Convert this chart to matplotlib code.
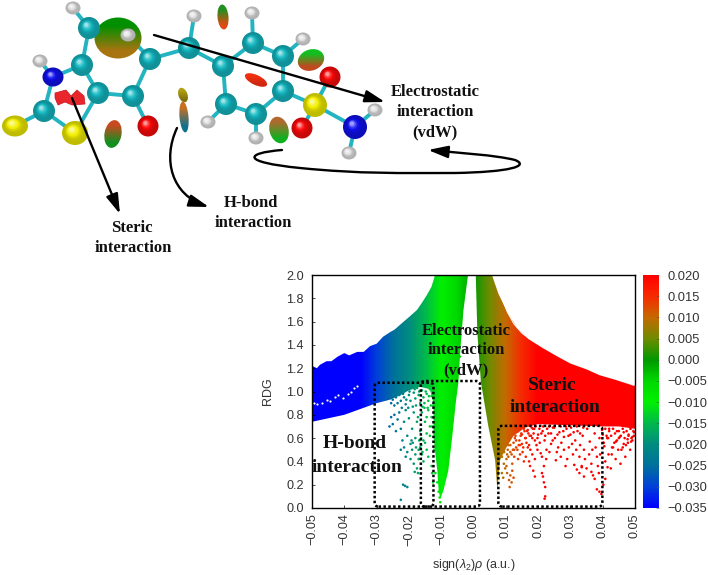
import numpy as np
import matplotlib
matplotlib.use('Agg')
import matplotlib.pyplot as plt
from matplotlib.colors import LinearSegmentedColormap, Normalize, to_rgb
from matplotlib.patches import Polygon, FancyBboxPatch, FancyArrowPatch, Ellipse
from matplotlib.path import Path
from matplotlib.cm import ScalarMappable

plt.rcParams['font.family'] = ['Liberation Sans', 'DejaVu Sans']
plt.rcParams['mathtext.fontset'] = 'custom'
plt.rcParams['mathtext.rm'] = 'Liberation Sans'
plt.rcParams['mathtext.it'] = 'Liberation Sans:italic'

W, H = 708, 575

# colour scale stops (value, colour)
scale_vals = [-0.035, -0.030, -0.025, -0.020, -0.015, -0.010, -0.005, 0.000, 0.005, 0.010, 0.015, 0.020]
scale_cols = ['#0000ff', '#0040d8', '#00709c', '#008c80', '#00b84c', '#00f000', '#00d800', '#009800',
              '#6f8c00', '#c46a00', '#f62a00', '#ff0000']

x_ticks = [-0.05, -0.04, -0.03, -0.02, -0.01, 0.00, 0.01, 0.02, 0.03, 0.04, 0.05]
y_ticks = [0.0, 0.2, 0.4, 0.6, 0.8, 1.0, 1.2, 1.4, 1.6, 1.8, 2.0]
cbar_ticks = [-0.035, -0.030, -0.025, -0.020, -0.015, -0.010, -0.005, 0.000, 0.005, 0.010, 0.015, 0.020]

# outline of the solid left band + green wedge
left_x = [-0.05, -0.0485, -0.0475, -0.0455, -0.044, -0.042, -0.04, -0.0385, -0.036, -0.034, -0.032, -0.03, -0.028,
          -0.0258, -0.0245, -0.0216, -0.0195, -0.0175, -0.016, -0.0144, -0.013, -0.0119, -0.0017,
          -0.0031, -0.0041, -0.0047, -0.0055, -0.0066, -0.0078, -0.0093, -0.0103,
          -0.0108, -0.0112, -0.0124, -0.0124, -0.0135,
          -0.0165, -0.02, -0.0225, -0.0258, -0.03, -0.035, -0.04, -0.045, -0.05]
left_y = [1.22, 1.2, 1.23, 1.26, 1.26, 1.3, 1.33, 1.31, 1.34, 1.34, 1.39, 1.41, 1.47,
          1.51, 1.53, 1.6, 1.65, 1.7, 1.76, 1.83, 1.9, 2.0, 2.0,
          1.7, 1.35, 1.07, 0.9, 0.61, 0.32, 0.15, 0.08,
          0.15, 0.32, 0.61, 0.9, 1.02,
          1.04, 1.01, 0.97, 0.93, 0.9, 0.85, 0.8, 0.77, 0.74]

# outline of the solid right band with its dense olive foot
right_x = [0.0007, 0.0057, 0.0077, 0.0105, 0.0134, 0.017, 0.0216, 0.026, 0.03, 0.035, 0.039, 0.044, 0.0495, 0.05,
           0.05, 0.045, 0.04, 0.03, 0.02, 0.016, 0.0124, 0.0102, 0.0082, 0.0078, 0.0074,
           0.0067, 0.0046, 0.0023, 0.0012]
right_y = [2.0, 2.0, 1.84, 1.68, 1.55, 1.45, 1.37, 1.3, 1.24, 1.19, 1.14, 1.1, 1.05, 1.05,
           0.68, 0.7, 0.7, 0.71, 0.72, 0.69, 0.62, 0.52, 0.41, 0.28, 0.15,
           0.41, 0.7, 1.08, 1.5]

# thin white gap near the upper right edge of the band
gap_x = [0.0068, 0.0085, 0.0105, 0.0125, 0.015, 0.017]
gap_y = [1.96, 1.82, 1.68, 1.58, 1.5, 1.46]

# white specks in the blue band
speck_x = [-0.0495, -0.0485, -0.047, -0.0455, -0.0445, -0.043, -0.042, -0.0405, -0.039, -0.038, -0.037, -0.036]
speck_y = [0.9, 0.89, 0.9, 0.93, 0.92, 0.95, 0.97, 0.94, 0.98, 1.0, 1.03, 1.05]

# loose points under the bands, estimated by eye
hbond_x = [-0.0255, -0.025, -0.0245, -0.024, -0.0235, -0.023, -0.0225, -0.022, -0.0215, -0.021, -0.0205, -0.02,
           -0.0195, -0.019, -0.0185, -0.018, -0.0175, -0.017, -0.0165, -0.016, -0.0155, -0.015, -0.0145, -0.014,
           -0.0135, -0.013, -0.026, -0.0255, -0.025, -0.0245, -0.024, -0.0235, -0.023, -0.0225, -0.022, -0.0215,
           -0.021, -0.0205, -0.02, -0.0195, -0.019, -0.0185, -0.018, -0.0175, -0.017, -0.0165, -0.016, -0.0155,
           -0.015, -0.0145, -0.014, -0.0135, -0.013, -0.0125, -0.0225, -0.0215, -0.021, -0.0205, -0.0195, -0.019,
           -0.0185, -0.018, -0.0175, -0.017, -0.0165, -0.016, -0.0155, -0.015, -0.0145, -0.014, -0.013, -0.0218,
           -0.0212, -0.0205, -0.0225, -0.0128, -0.0125, -0.0182, -0.0172, -0.0192, -0.0162, -0.0152,
           -0.0222, -0.0218, -0.0208, -0.0202, -0.0198, -0.0188, -0.0182, -0.0178, -0.0168, -0.0158, -0.0152, -0.0148,
           -0.0142, -0.0138, -0.0132, -0.0128, -0.0188, -0.0178, -0.0168, -0.0162, -0.0158, -0.0172, -0.0145, -0.0135]
hbond_y = [0.90, 0.93, 0.88, 0.95, 0.90, 0.97, 0.92, 1.0, 0.95, 0.89, 1.02, 0.97,
           0.92, 1.04, 0.99, 0.94, 1.03, 0.97, 0.9, 1.01, 0.95, 1.05, 0.98, 0.92,
           1.02, 0.96, 0.70, 0.78, 0.72, 0.8, 0.66, 0.76, 0.82, 0.68, 0.58, 0.74,
           0.84, 0.62, 0.77, 0.55, 0.68, 0.82, 0.6, 0.74, 0.5, 0.66, 0.82, 0.58,
           0.74, 0.64, 0.84, 0.7, 0.78, 0.88, 0.5, 0.52, 0.44, 0.48, 0.42, 0.5,
           0.38, 0.46, 0.34, 0.42, 0.52, 0.46, 0.4, 0.56, 0.5, 0.44, 0.36, 0.2,
           0.19, 0.18, 0.07, 0.3, 0.22, 0.31, 0.3, 0.58, 0.6, 0.86,
           0.86, 0.98, 0.93, 0.86, 1.0, 0.87, 1.02, 0.88, 1.0, 0.87, 0.9, 1.0,
           0.86, 0.96, 0.88, 1.0, 0.56, 0.52, 0.58, 0.54, 0.48, 0.78, 0.78, 0.62]

green_x = [-0.0105, -0.0103, -0.0108, -0.0112, -0.0118, -0.0098, -0.0088, -0.0078, -0.0068, -0.0122, -0.0128,
           -0.0058, -0.0052, -0.0046, -0.0042]
green_y = [0.09, 0.05, 0.14, 0.22, 0.3, 0.2, 0.38, 0.6, 0.85, 0.5, 0.7, 1.02, 1.1, 1.2, 1.3]

red_x = [0.0086, 0.0092, 0.0098, 0.0104, 0.011, 0.0116, 0.0122, 0.0128, 0.0134, 0.014, 0.0146, 0.0152, 0.0158, 0.0164,
         0.017, 0.0176, 0.0182, 0.0188, 0.0195, 0.02, 0.0208, 0.0214, 0.022, 0.0226, 0.0232, 0.024, 0.0246, 0.0252,
         0.0258, 0.0266, 0.0272, 0.028, 0.0288, 0.0295, 0.03, 0.0308, 0.0315, 0.0322, 0.033, 0.0338, 0.0345, 0.0352,
         0.036, 0.0368, 0.0375, 0.0382, 0.039, 0.0398, 0.0405, 0.0412, 0.042, 0.0428, 0.0436, 0.0444, 0.045, 0.0458,
         0.0465, 0.0472, 0.048, 0.0488, 0.0495,
         0.0088, 0.0094, 0.0102, 0.0108, 0.0114, 0.012, 0.0126, 0.0132, 0.0138, 0.0144, 0.015, 0.0156, 0.0162, 0.0168,
         0.0175, 0.0182, 0.019, 0.0198, 0.0205, 0.0212, 0.0218, 0.0225, 0.0235, 0.0245, 0.0255, 0.0262, 0.027, 0.028,
         0.029, 0.0305, 0.0318, 0.0328, 0.0335, 0.0342, 0.035, 0.0358, 0.0365, 0.0378, 0.0385, 0.0392, 0.0402, 0.0408,
         0.0418, 0.0425, 0.0432, 0.044, 0.0448, 0.0455, 0.0462, 0.047, 0.0478, 0.0485, 0.0492,
         0.0088, 0.0092, 0.0098, 0.0104, 0.011, 0.0114, 0.0118, 0.012, 0.0112, 0.0124, 0.0172, 0.0185, 0.019, 0.0212,
         0.0215, 0.0218, 0.0222, 0.0222, 0.022, 0.0285, 0.0312, 0.032, 0.0328, 0.0335, 0.0342, 0.0365, 0.037, 0.0375,
         0.0382, 0.039, 0.0396, 0.0388, 0.0402, 0.0408, 0.0415,
         0.0095, 0.01, 0.0106, 0.0112, 0.0118, 0.0124, 0.013, 0.0136, 0.0142, 0.0148, 0.0154, 0.016, 0.0166, 0.0172,
         0.0178, 0.0184, 0.019, 0.0102, 0.0108, 0.0114, 0.012, 0.0126, 0.0132, 0.0138, 0.0144, 0.015, 0.0156, 0.0162,
         0.0168, 0.0174, 0.018, 0.0186, 0.0192, 0.0198, 0.0204, 0.021, 0.0216, 0.0222, 0.0228, 0.0234, 0.024, 0.025,
         0.026, 0.027, 0.0278, 0.0286, 0.0294, 0.0302, 0.031, 0.032, 0.033, 0.034,
         0.04, 0.0408, 0.0414, 0.042, 0.0426, 0.0432, 0.0438, 0.0444, 0.045, 0.0456, 0.0462, 0.0468, 0.0474, 0.048,
         0.0486, 0.0492, 0.0497, 0.0403, 0.0417, 0.0429, 0.0441, 0.0453, 0.0465, 0.0477, 0.0489, 0.0497]
red_y = [0.6, 0.52, 0.64, 0.46, 0.58, 0.66, 0.5, 0.6, 0.68, 0.54, 0.62, 0.48, 0.66, 0.56,
         0.64, 0.5, 0.6, 0.68, 0.54, 0.63, 0.47, 0.66, 0.58, 0.5, 0.64, 0.55, 0.69, 0.6,
         0.48, 0.65, 0.56, 0.61, 0.68, 0.52, 0.63, 0.46, 0.58, 0.66, 0.54, 0.62, 0.42, 0.68, 0.57,
         0.5, 0.64, 0.44, 0.6, 0.67, 0.53, 0.62, 0.68, 0.46, 0.56, 0.66, 0.6, 0.5,
         0.65, 0.54, 0.62, 0.57, 0.66,
         0.44, 0.38, 0.42, 0.54, 0.48, 0.38, 0.44, 0.52, 0.42, 0.46, 0.55, 0.4, 0.44, 0.52,
         0.36, 0.46, 0.42, 0.5, 0.56, 0.44, 0.36, 0.42, 0.48, 0.58, 0.41, 0.52, 0.44, 0.5,
         0.42, 0.55, 0.5, 0.44, 0.36, 0.5, 0.34, 0.46, 0.38, 0.52, 0.36, 0.46, 0.56, 0.4,
         0.46, 0.34, 0.52, 0.42, 0.5, 0.38, 0.52, 0.44, 0.56, 0.5, 0.58,
         0.3, 0.26, 0.34, 0.3, 0.24, 0.28, 0.22, 0.32, 0.18, 0.26, 0.4, 0.32, 0.27, 0.3,
         0.27, 0.22, 0.18, 0.1, 0.08, 0.36, 0.37, 0.33, 0.3, 0.35, 0.27, 0.31, 0.28, 0.25,
         0.16, 0.14, 0.12, 0.3, 0.2, 0.25, 0.35,
         0.48, 0.56, 0.5, 0.6, 0.46, 0.56, 0.62, 0.5, 0.58, 0.64, 0.52, 0.6, 0.66, 0.54,
         0.62, 0.68, 0.58, 0.36, 0.44, 0.54, 0.64, 0.5, 0.58, 0.66, 0.54, 0.63, 0.68, 0.6,
         0.67, 0.62, 0.69, 0.64, 0.7, 0.6, 0.68, 0.64, 0.7, 0.62, 0.68, 0.7, 0.64, 0.69,
         0.63, 0.7, 0.66, 0.7, 0.62, 0.69, 0.65, 0.7, 0.64, 0.69,
         0.63, 0.68, 0.6, 0.66, 0.62, 0.68, 0.64, 0.58, 0.66, 0.62, 0.68, 0.6, 0.66, 0.63,
         0.68, 0.61, 0.65, 0.56, 0.6, 0.52, 0.57, 0.61, 0.55, 0.59, 0.6, 0.62]

# dotted boxes: left, right, bottom, top
box_lims = [(-0.0306, -0.0124, 0.012, 1.075), (-0.0163, 0.0020, 0.012, 1.09), (0.0077, 0.0399, 0.012, 0.705)]

# molecule sketch in image pixels
carbon_x = [89, 82, 98, 133, 150, 189, 223, 253, 283, 283, 256, 226, 44]
carbon_y = [28, 65, 93, 96, 59, 48, 66, 43, 56, 91, 114, 104, 111]
nitrogen_x = [53, 355]
nitrogen_y = [77, 127]
sulfur_x = [75, 15, 315]
sulfur_y = [133, 126, 105]
oxygen_x = [148, 330, 302]
oxygen_y = [126, 77, 128]
hydrogen_x = [73, 40, 128, 194, 252, 303, 208, 256, 375, 349]
hydrogen_y = [8, 61, 35, 16, 13, 39, 122, 138, 110, 153]
bond_list = [((89, 28), (73, 8)), ((89, 28), (82, 65)), ((82, 65), (98, 93)), ((98, 93), (133, 96)),
             ((133, 96), (150, 59)), ((150, 59), (128, 35)), ((150, 59), (189, 48)), ((189, 48), (194, 16)),
             ((189, 48), (223, 66)), ((223, 66), (253, 43)), ((253, 43), (252, 13)), ((253, 43), (283, 56)),
             ((283, 56), (303, 39)), ((283, 56), (283, 91)), ((283, 91), (256, 114)), ((256, 114), (226, 104)),
             ((226, 104), (223, 66)), ((226, 104), (208, 122)), ((256, 114), (256, 138)), ((283, 91), (315, 105)),
             ((133, 96), (148, 126)), ((82, 65), (53, 77)), ((53, 77), (40, 61)), ((53, 77), (44, 111)),
             ((44, 111), (15, 126)), ((44, 111), (75, 133)), ((75, 133), (98, 93)), ((315, 105), (330, 77)),
             ((315, 105), (302, 128)), ((315, 105), (355, 127)), ((355, 127), (375, 110)), ((355, 127), (349, 153))]
# blobs: x, y, width, height, angle, top colour, bottom colour
blob_list = [(118, 38, 47, 41, 0, '#009000', '#a87410'),
             (113, 134, 17, 28, 10, '#c84a20', '#109020'),
             (183, 95, 9, 15, -20, '#b0a010', '#807010'),
             (184, 117, 9, 31, -5, '#c87020', '#107090'),
             (223, 17, 11, 25, -5, '#209020', '#e04a10'),
             (256, 80, 24, 10, 25, '#f03010', '#d02810'),
             (311, 60, 27, 21, -20, '#10c020', '#c04a20'),
             (279, 130, 19, 27, -15, '#b06a30', '#10b020')]


def tick_text(v, n):
    return f'{v:.{n}f}'.replace('-', '\u2212')


def shade(col, f):
    c = np.array(to_rgb(col))
    return tuple(c + (1 - c) * f) if f > 0 else tuple(c * (1 + f))


def sphere(a, x, y, r, col, ry=None):
    ry = r if ry is None else ry
    # stack of shrinking circles gives the ball shading
    for k in range(9):
        t = k / 9
        f = -0.22 + 1.15 * t ** 3
        a.add_patch(Ellipse((x - 0.28 * r * t, y - 0.32 * ry * t), 2 * r * (1 - t * 0.92), 2 * ry * (1 - t * 0.92),
                            fc=shade(col, f), ec='none', zorder=3))


cmap = LinearSegmentedColormap.from_list('nci', [(round((v + 0.035) / 0.055, 6), c) for v, c in zip(scale_vals, scale_cols)])
norm = Normalize(-0.035, 0.02)

fig = plt.figure(figsize=(W / 100, H / 100), dpi=100)
ax = fig.add_axes([312 / W, 1 - 508 / H, 323 / W, 233 / H])
ax.set_xlim(-0.05, 0.05)
ax.set_ylim(0, 2)

grad = np.linspace(-0.05, 0.05, 400)[None, :]
for bx, by in [(left_x, left_y), (right_x, right_y)]:
    im = ax.imshow(grad, cmap=cmap, norm=norm, extent=(-0.05, 0.05, 0, 2), aspect='auto', zorder=1)
    poly = Polygon(np.column_stack([bx, by]), closed=True, transform=ax.transData, fc='none', ec='none')
    ax.add_patch(poly)
    im.set_clip_path(poly)

ax.plot(gap_x, gap_y, color='white', lw=0.7, zorder=2)
ax.scatter(speck_x, speck_y, s=2.5, color='white', lw=0, zorder=2)
for px, py in [(hbond_x, hbond_y), (green_x, green_y), (red_x, red_y)]:
    ax.scatter(px, py, c=px, cmap=cmap, norm=norm, s=3.5, lw=0, zorder=2)

aspect = (2 / 233) / (0.1 / 323)
for l, r, b, t in box_lims:
    ax.add_patch(FancyBboxPatch((l, b), r - l, t - b, boxstyle='round,pad=0,rounding_size=0.0012',
                                mutation_aspect=aspect, fc='none', ec='black', lw=1.8,
                                ls=(0, (1, 0.95)), zorder=4, clip_on=False))

ax.set_xticks(x_ticks)
ax.set_xticklabels([tick_text(v, 2) for v in x_ticks], rotation=90, fontsize=9.1, color='#333333')
ax.set_yticks(y_ticks)
ax.set_yticklabels([tick_text(v, 1) for v in y_ticks], fontsize=9.1, color='#333333')
ax.tick_params(direction='in', length=2.5, width=0.5)
ax.tick_params(axis='y', pad=6)
ax.tick_params(axis='x', pad=4)
ax.set_xlabel(r'sign($\lambda_2$)$\rho$ (a.u.)', fontsize=9, color='#333333', labelpad=8)
ax.set_ylabel('RDG', fontsize=9, color='#333333', labelpad=9)
for sp in ax.spines.values():
    sp.set_linewidth(1.0)

cax = fig.add_axes([643 / W, 1 - 508 / H, 16 / W, 233 / H])
cb = fig.colorbar(ScalarMappable(norm=norm, cmap=cmap), cax=cax, ticks=cbar_ticks)
cb.ax.set_yticklabels([tick_text(v, 3) for v in cbar_ticks], fontsize=9.3, color='#333333')
cb.ax.tick_params(direction='in', length=2, width=0.4, pad=6, color='#555555')
cb.outline.set_visible(False)

# overlay in image pixels for the molecule, labels and arrows
ov = fig.add_axes([0, 0, 1, 1], zorder=5)
ov.axis('off')

for (x0, y0), (x1, y1) in bond_list:
    ov.plot([x0, x1], [y0, y1], color='#22b4c0', lw=2.8, solid_capstyle='round', zorder=2)

for x, y, w_, h_, ang, c0, c1 in blob_list:
    c0, c1 = np.array(to_rgb(c0)), np.array(to_rgb(c1))
    f = np.linspace(-1.1, 2.1, 32).clip(0, 1)[:, None, None]
    img = c0 * (1 - f) + c1 * f
    im = ov.imshow(img, extent=(x - w_, x + w_, y + h_, y - h_), aspect='auto', zorder=2.5)
    el = Ellipse((x, y), w_, h_, angle=ang, transform=ov.transData, fc='none', ec='none')
    ov.add_patch(el)
    im.set_clip_path(el)

for x, y in zip(carbon_x, carbon_y):
    sphere(ov, x, y, 11, '#14b8c2')
sphere(ov, nitrogen_x[0], nitrogen_y[0], 10.5, '#1010f0', 9.5)
sphere(ov, nitrogen_x[1], nitrogen_y[1], 12, '#1010f0')
sphere(ov, sulfur_x[0], sulfur_y[0], 13, '#f4f000', 12)
sphere(ov, sulfur_x[1], sulfur_y[1], 13, '#f4f000', 10.5)
sphere(ov, sulfur_x[2], sulfur_y[2], 12, '#f4f000')
for x, y in zip(oxygen_x, oxygen_y):
    sphere(ov, x, y, 10.5, '#ff0a0a')
for x, y in zip(hydrogen_x, hydrogen_y):
    sphere(ov, x, y, 7.5, '#e4e4e4', 6.5)

# steric lobes
ov.add_patch(Polygon([(55, 93), (66, 90), (71, 96), (77, 90), (84, 96), (85, 104), (72, 105), (65, 102), (58, 105),
                      (55, 98)], closed=True, fc='#e8262c', ec='#c01820', lw=0.5, zorder=4))

head = '-|>,head_length=0.85,head_width=0.26'
for (x0, y0), (x1, y1) in [((154, 35), (385, 102)), ((72, 98), (120, 214))]:
    ov.add_patch(FancyArrowPatch((x0, y0), (x1, y1), arrowstyle=head, mutation_scale=14, color='black',
                                 lw=1.7, shrinkA=0, shrinkB=0, zorder=6))

hb_path = Path([(177, 128), (162, 160), (172, 195), (209, 207)], [Path.MOVETO, Path.CURVE4, Path.CURVE4, Path.CURVE4])
ov.add_patch(FancyArrowPatch(path=hb_path, arrowstyle=head, mutation_scale=14, color='black', lw=1.7, zorder=6))

loop_path = Path([(282, 150), (245, 153), (240, 162), (300, 168), (360, 174), (400, 173), (455, 173),
                  (510, 172), (530, 166), (515, 160), (495, 155), (460, 153), (428, 150)],
                 [Path.MOVETO] + [Path.CURVE4] * 12)
ov.add_patch(FancyArrowPatch(path=loop_path, arrowstyle=head, mutation_scale=14, color='black', lw=1.7, zorder=6))

serif = dict(family='Liberation Serif', fontweight='bold', ha='center', va='center', color='#111111')
ov.text(132, 228, 'Steric', fontsize=12, **serif)
ov.text(133, 248, 'interaction', fontsize=12, **serif)
ov.text(251, 203, 'H-bond', fontsize=12, **serif)
ov.text(253, 223, 'interaction', fontsize=12, **serif)
ov.text(435, 92, 'Electrostatic', fontsize=12, **serif)
ov.text(435, 112, 'interaction', fontsize=12, **serif)
ov.text(435, 132, '(vdW)', fontsize=12, **serif)
ov.text(466, 331, 'Electrostatic', fontsize=12, **serif)
ov.text(466, 350, 'interaction', fontsize=12, **serif)
ov.text(466, 370, '(vdW)', fontsize=12, **serif)
ov.text(552, 385, 'Steric', fontsize=14, **serif)
ov.text(555, 407, 'interaction', fontsize=14, **serif)
ov.text(355, 444, 'H-bond', fontsize=14, **serif)
ov.text(357, 467, 'interaction', fontsize=14, **serif)

ov.set_xlim(0, W)
ov.set_ylim(H, 0)

fig.savefig('out.png', dpi=100)
